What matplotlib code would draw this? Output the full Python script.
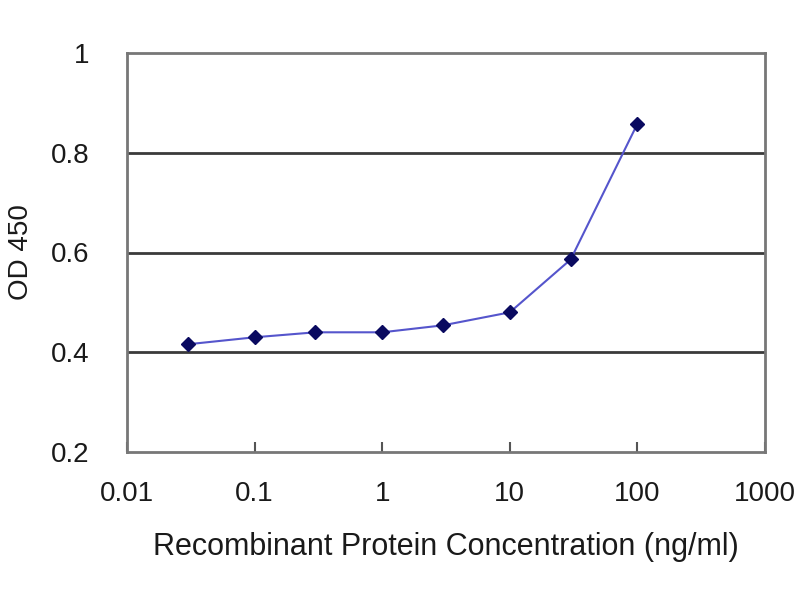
import matplotlib
matplotlib.use("Agg")
import matplotlib.pyplot as plt

conc = [0.03, 0.1, 0.3, 1, 3, 10, 30, 100]
od = [0.416, 0.430, 0.440, 0.440, 0.454, 0.480, 0.586, 0.858]
xticks = [0.01, 0.1, 1, 10, 100, 1000]
xticklabels = ["0.01", "0.1", "1", "10", "100", "1000"]
yticks = [0.2, 0.4, 0.6, 0.8, 1.0]
yticklabels = ["0.2", "0.4", "0.6", "0.8", "1"]

plt.rcParams['font.family'] = ['Liberation Sans', 'DejaVu Sans']

fig = plt.figure(figsize=(8, 6), dpi=100)
ax = fig.add_axes([127/800, 1-452/600, (765-127)/800, (452-53)/600])

ax.set_xscale('log')
ax.set_xlim(0.01, 1000)
ax.set_ylim(0.2, 1.0)

for y in [0.4, 0.6, 0.8]:
    ax.axhline(y, color='#3a3a3a', lw=2.0, zorder=1)

ax.plot(conc, od, color='#5555cc', lw=1.5, zorder=2)
ax.plot(conc, od, linestyle='none', marker='D', markersize=7.5, color='#0a0a60', zorder=3)

ax.set_xticks(xticks)
ax.set_xticklabels(xticklabels)
ax.minorticks_off()
ax.set_yticks(yticks)
ax.set_yticklabels(yticklabels)

ax.tick_params(axis='x', direction='in', length=7, width=1.5, color='#555555',
               pad=21, labelsize=20, labelcolor='#1a1a1a')
ax.tick_params(axis='y', direction='in', length=0, pad=27, labelsize=20, labelcolor='#1a1a1a')

for s in ax.spines.values():
    s.set_color('#777777')
    s.set_linewidth(2)

ax.set_xlabel("Recombinant Protein Concentration (ng/ml)", fontsize=22, color='#1a1a1a', labelpad=18)
ax.set_ylabel("OD 450", fontsize=20, color='#1a1a1a', labelpad=12)

fig.savefig("out.png", dpi=100)
